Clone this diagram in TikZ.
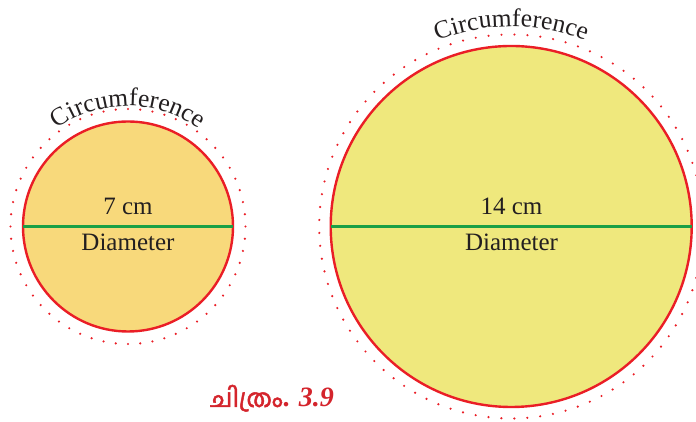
\documentclass[tikz,border=0pt]{standalone}
\usepackage{fontspec}
\setmainfont{Liberation Serif}
\newfontfamily\mlfont[Script=Malayalam,FakeBold=2]{Hind Kochi}
\usetikzlibrary{decorations.text,calc}
\definecolor{smallfill}{RGB}{248,217,123}
\definecolor{bigfill}{RGB}{239,232,125}
\definecolor{rimred}{RGB}{234,30,38}
\definecolor{diagreen}{RGB}{26,160,70}
\definecolor{inkdark}{RGB}{35,31,32}
\definecolor{capred}{RGB}{212,36,44}
\newcommand\circfont{\rmfamily\fontsize{25.5}{30}\selectfont\color{inkdark}}
\tikzset{
  disk/.style={circle, draw=rimred, line width=2.4pt, inner sep=0pt, outer sep=0pt},
  diam/.style={draw=diagreen, line width=2.8pt},
  dotring/.style={draw=rimred, line width=2.4pt, line cap=round},
  lbl/.style={font=\rmfamily\fontsize{25}{30}\selectfont, text=inkdark, anchor=base, inner sep=0pt},
  arctext/.style={decorate, decoration={text along path, text={|\circfont|Circumference}, text align=center}}
}
\begin{document}
\begin{tikzpicture}[x=1pt,y=1pt]
\useasboundingbox (0,0) rectangle (696,422);
% small circle
\node[disk, fill=smallfill, minimum size=210pt] (s) at (128,195.5) {};
\draw[diam] (s.west) -- (s.east);
\draw[dotring, dash pattern=on 0pt off 12.305pt] (s.center) circle[radius=117.5];
\path[arctext] ($(s.center)+(150:120.5)$) arc[start angle=150, end angle=30, radius=120.5];
\node[lbl] (s7) at (128,207.7) {7 cm};
\node[lbl] (sd) at (128,171) {Diameter};
% big circle
\node[disk, fill=bigfill, minimum size=361pt] (b) at (511.2,195.5) {};
\draw[diam] (b.west) -- (b.east);
\draw[dotring, dash pattern=on 0pt off 12.972pt] (b.center) circle[radius=192];
\path[arctext] ($(b.center)+(120:200)$) arc[start angle=120, end angle=60, radius=200];
\node[lbl] (b14) at (511.5,207.7) {14 cm};
\node[lbl] (bd) at (511.5,171) {Diameter};
% caption
\node[anchor=base west, inner sep=0pt, text=capred] (cap) at (210,15)
  {{\fontsize{25}{28}\selectfont\mlfont ചിത്രം}{\fontsize{28}{30}\selectfont\rmfamily\bfseries. \itshape 3.9}};
\end{tikzpicture}
\end{document}
